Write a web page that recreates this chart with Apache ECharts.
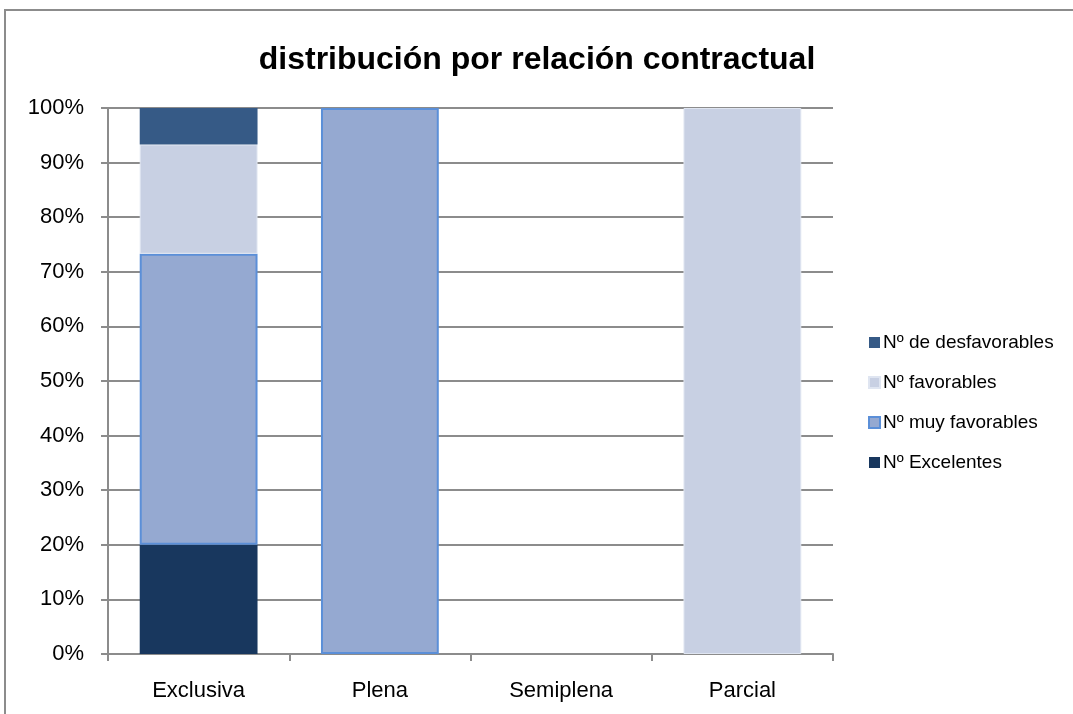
<!DOCTYPE html>
<html>
<head>
<meta charset="utf-8">
<script src="https://cdn.jsdelivr.net/npm/echarts@6/dist/echarts.min.js"></script>
<style>
html,body{margin:0;padding:0;background:#fff;}
#chart{width:1073px;height:714px;}
</style>
</head>
<body>
<div id="chart"></div>
<script>
// Data (percent of each category)
const categories = ['Exclusiva', 'Plena', 'Semiplena', 'Parcial'];
const excelentes = [20, null, null, null];
const muyFavorables = [53.3, 100, null, null];
const favorables = [20, null, null, 100];
const desfavorables = [6.7, null, null, null];
const yTicks = [0, 10, 20, 30, 40, 50, 60, 70, 80, 90, 100];

const FONT = 'Liberation Sans';
const chart = echarts.init(document.getElementById('chart'), null, {renderer: 'canvas'});
const gridColor = '#8c8c8c';

chart.setOption({
  backgroundColor: '#ffffff',
  animation: false,
  title: {
    text: 'distribución por relación contractual',
    left: 532, top: 39, textAlign: 'center',
    textStyle: {fontFamily: FONT, fontSize: 32, fontWeight: 'bold', color: '#000'}
  },
  graphic: [{
    type: 'rect', silent: true,
    shape: {x: 5, y: 10, width: 1200, height: 1000},
    style: {fill: 'none', stroke: '#8c8c8c', lineWidth: 2}
  }],
  legend: {
    orient: 'vertical', left: 863, top: 328,
    itemWidth: 11, itemHeight: 11, itemGap: 21,
    icon: 'rect',
    data: ['Nº de desfavorables', 'Nº favorables', 'Nº muy favorables', 'Nº Excelentes'],
    textStyle: {fontFamily: FONT, fontSize: 19, lineHeight: 19, color: '#000', padding: [0, 0, 0, -2]}
  },
  grid: {left: 108, right: 240, top: 108, bottom: 60, containLabel: false},
  xAxis: {
    type: 'category', data: categories,
    axisLine: {show: true, lineStyle: {color: gridColor, width: 2}},
    axisTick: {show: true, length: 7, lineStyle: {color: gridColor, width: 2}},
    axisLabel: {fontFamily: FONT, fontSize: 22, color: '#000', margin: 26}
  },
  yAxis: {
    type: 'value', min: 0, max: 100, interval: 10,
    axisLine: {show: true, lineStyle: {color: gridColor, width: 2}},
    axisTick: {show: true, length: 7, lineStyle: {color: gridColor, width: 2}},
    axisLabel: {fontFamily: FONT, fontSize: 22, color: '#000', margin: 24, padding: [8, 0, 0, 0],
      formatter: v => yTicks.includes(v) ? v + '%' : ''},
    splitLine: {show: true, lineStyle: {color: gridColor, width: 2}}
  },
  series: [
    {name: 'Nº Excelentes', type: 'bar', stack: 's', barWidth: '65%', data: excelentes,
     itemStyle: {color: '#18375e'}},
    {name: 'Nº muy favorables', type: 'bar', stack: 's', data: muyFavorables,
     itemStyle: {color: '#95a9d1', borderColor: '#5b8fd8', borderWidth: 2}},
    {name: 'Nº favorables', type: 'bar', stack: 's', data: favorables,
     itemStyle: {color: '#c8d0e3', borderColor: '#dfe5f1', borderWidth: 1}},
    {name: 'Nº de desfavorables', type: 'bar', stack: 's', data: desfavorables,
     itemStyle: {color: '#365a86'}}
  ]
});
</script>
</body>
</html>
